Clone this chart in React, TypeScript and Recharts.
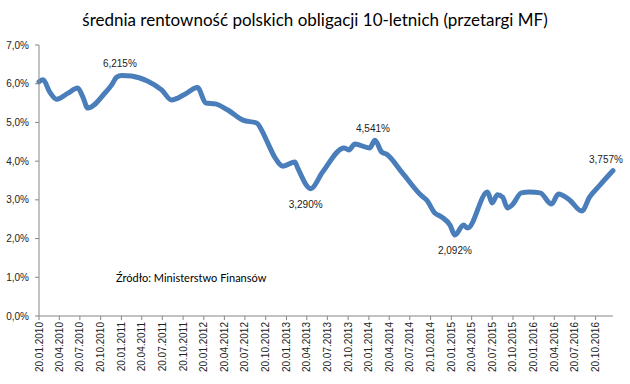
import React from "react";
import { LineChart, Line, XAxis, YAxis, LabelList } from "recharts";

// daty przetargów i średnia rentowność (%)
const auctionDates = [
  "2010-01-20", "2010-02-07", "2010-03-08", "2010-04-08", "2010-05-27", "2010-07-10",
  "2010-08-02", "2010-08-24", "2010-11-08", "2010-12-08", "2010-12-30", "2011-01-22",
  "2011-03-05", "2011-05-15", "2011-07-17", "2011-08-30", "2011-10-26", "2011-12-23",
  "2012-01-29", "2012-03-11", "2012-05-05", "2012-07-11", "2012-09-11", "2012-10-02",
  "2012-10-29", "2012-11-29", "2013-01-05", "2013-02-26", "2013-03-11", "2013-05-07",
  "2013-06-29", "2013-10-02", "2013-10-23", "2013-11-19", "2014-01-23", "2014-02-16",
  "2014-03-17", "2014-04-08", "2014-06-18", "2014-09-11", "2014-10-02", "2014-11-08",
  "2014-12-08", "2015-01-14", "2015-02-05", "2015-03-15", "2015-04-02", "2015-06-29",
  "2015-07-20", "2015-08-12", "2015-09-04", "2015-09-26", "2015-10-17", "2015-11-26",
  "2016-01-01", "2016-02-17", "2016-04-08", "2016-05-08", "2016-06-26", "2016-08-20",
  "2016-09-23", "2016-11-08", "2017-01-05",
];

const yields = [
  6.05, 6.1, 5.79, 5.6, 5.75, 5.89,
  5.66, 5.37, 5.76, 5.97, 6.17, 6.215,
  6.2, 6.07, 5.84, 5.58, 5.72, 5.9,
  5.5, 5.48, 5.32, 5.06, 4.98, 4.8,
  4.47, 4.1, 3.87, 3.98, 3.82, 3.29,
  3.72, 4.34, 4.29, 4.44, 4.34, 4.541,
  4.24, 4.18, 3.69, 3.1, 3.0, 2.66,
  2.56, 2.35, 2.092, 2.35, 2.27, 3.2,
  2.92, 3.13, 3.07, 2.79, 2.87, 3.18,
  3.2, 3.18, 2.89, 3.15, 3.0, 2.71,
  3.07, 3.38, 3.757,
];

const tickLabels = [
  "20.01.2010", "20.04.2010", "20.07.2010", "20.10.2010",
  "20.01.2011", "20.04.2011", "20.07.2011", "20.10.2011",
  "20.01.2012", "20.04.2012", "20.07.2012", "20.10.2012",
  "20.01.2013", "20.04.2013", "20.07.2013", "20.10.2013",
  "20.01.2014", "20.04.2014", "20.07.2014", "20.10.2014",
  "20.01.2015", "20.04.2015", "20.07.2015", "20.10.2015",
  "20.01.2016", "20.04.2016", "20.07.2016", "20.10.2016",
];

const yTicks = [0, 1, 2, 3, 4, 5, 6, 7];

// punkty z podpisem wartości
const labeled = [
  { date: "2011-01-22", pos: "top", dx: -2 },
  { date: "2013-05-07", pos: "bottom", dx: -5 },
  { date: "2014-02-16", pos: "top", dx: -2 },
  { date: "2015-02-05", pos: "bottom", dx: 0 },
  { date: "2017-01-05", pos: "top", dx: -7 },
];

const parseIso = (s: string) => {
  const [y, m, d] = s.split("-").map(Number);
  return Date.UTC(y, m - 1, d);
};
const parsePl = (s: string) => {
  const [d, m, y] = s.split(".").map(Number);
  return Date.UTC(y, m - 1, d);
};

const data = auctionDates.map((d, i) => {
  const lab = labeled.find((l) => l.date === d);
  return {
    t: parseIso(d),
    y: yields[i],
    label: lab ? yields[i].toFixed(3).replace(".", ",") + "%" : null,
    pos: lab ? lab.pos : null,
    dx: lab ? lab.dx : 0,
  };
});

const xTicks = tickLabels.map(parsePl);
const labelByTime: Record<number, string> = {};
tickLabels.forEach((l, i) => (labelByTime[xTicks[i]] = l));

const axisColor = "#868686";
const tickFont = "'Liberation Sans', Arial, sans-serif";
const textFont = "Lato, 'Open Sans', sans-serif";

const XTick = (props: any) => {
  const { x, y, payload } = props;
  return (
    <g transform={`translate(${x},${y})`}>
      <text
        x={0}
        y={0}
        dy={3.5}
        transform="rotate(-90)"
        textAnchor="end"
        fontSize={10}
        fontFamily={tickFont}
        fill="#222"
      >
        {labelByTime[payload.value]}
      </text>
    </g>
  );
};

const YTick = (props: any) => {
  const { y, payload } = props;
  return (
    <text x={29} y={y} dy={3.5} textAnchor="end" fontSize={10} fontFamily={tickFont} fill="#222">
      {payload.value.toFixed(1).replace(".", ",") + "%"}
    </text>
  );
};

const renderLabel = (props: any) => {
  const { x, y, index } = props;
  const p = data[index];
  if (!p || !p.label) return null;
  const ty = p.pos === "top" ? y - 8 : y + 19;
  return (
    <text x={x + p.dx} y={ty} textAnchor="middle" fontSize={10} fontFamily={tickFont} fill="#222">
      {p.label}
    </text>
  );
};

export default function App() {
  return (
    <div style={{ position: "absolute", left: 0, top: 0, width: 630, height: 384, background: "#fff" }}>
      <div
        style={{
          position: "absolute",
          top: 9,
          left: 0,
          width: 630,
          textAlign: "center",
          fontFamily: textFont,
          fontSize: 17,
          color: "#000",
        }}
      >
        średnia rentowność polskich obligacji 10-letnich (przetargi MF)
      </div>
      <div
        style={{
          position: "absolute",
          top: 271,
          left: 116,
          fontFamily: textFont,
          fontSize: 11,
          color: "#000",
        }}
      >
        Źródło: Ministerstwo Finansów
      </div>
      <LineChart width={630} height={384} data={data} margin={{ top: 45, right: 17, bottom: 0, left: 0 }}>
        <XAxis
          dataKey="t"
          type="number"
          domain={[data[0].t, data[data.length - 1].t]}
          ticks={xTicks}
          interval={0}
          height={68}
          stroke={axisColor}
          tickSize={4}
          tickMargin={2}
          tick={<XTick />}
        />
        <YAxis
          type="number"
          domain={[0, 7]}
          ticks={yTicks}
          interval={0}
          width={39}
          stroke={axisColor}
          tickSize={4}
          tick={<YTick />}
        />
        <Line
          type="monotone"
          dataKey="y"
          stroke="#4A7EBB"
          strokeWidth={5}
          strokeLinecap="round"
          strokeLinejoin="round"
          dot={false}
          isAnimationActive={false}
        >
          <LabelList dataKey="label" content={renderLabel} />
        </Line>
      </LineChart>
    </div>
  );
}
